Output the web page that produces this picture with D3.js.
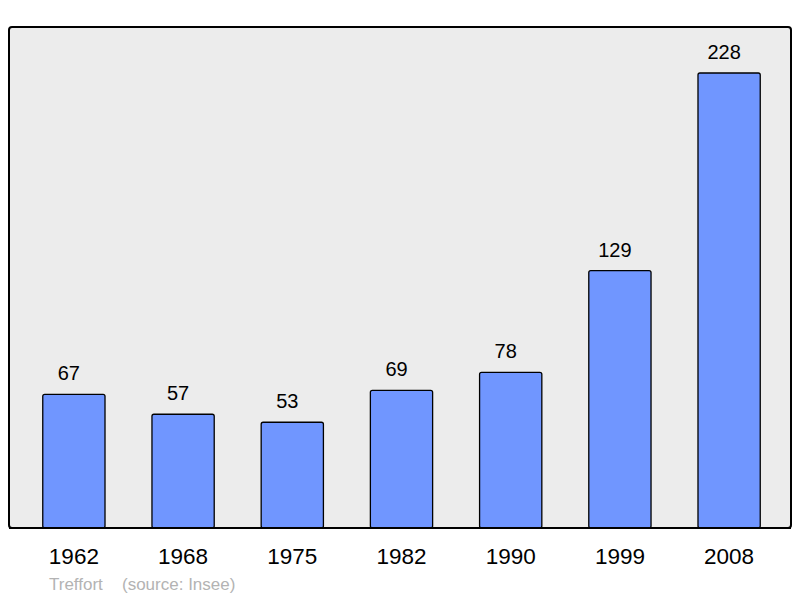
<!DOCTYPE html>
<html>
<head>
<meta charset="utf-8">
<script src="https://cdn.jsdelivr.net/npm/d3@7"></script>
<style>
  body { margin: 0; background: #fff; }
  text { font-family: "Liberation Sans", Arial, sans-serif; }
</style>
</head>
<body>
<div id="chart"></div>
<script>
const years = ["1962", "1968", "1975", "1982", "1990", "1999", "2008"];
const population = [67, 57, 53, 69, 78, 129, 228];
const commune = "Treffort";
const source = "(source: Insee)";

const width = 800, height = 598;
const panel = { left: 9, top: 27, right: 791, bottom: 528 };

const svg = d3.select("#chart")
    .append("svg")
    .attr("width", width)
    .attr("height", height);

// background panel
svg.append("rect")
    .attr("x", panel.left)
    .attr("y", panel.top)
    .attr("width", panel.right - panel.left)
    .attr("height", panel.bottom - panel.top)
    .attr("rx", 3)
    .attr("fill", "#ececec")
    .attr("stroke", "#000")
    .attr("stroke-width", 2);

const x = d3.scaleBand()
    .domain(years)
    .range([panel.left + 1, panel.right + 2])
    .paddingInner(0.43)
    .paddingOuter(0.3);

const y = d3.scaleLinear()
    .domain([0, 228])
    .range([panel.bottom, 73]);

const data = years.map((yr, i) => ({ year: yr, value: population[i] }));

svg.selectAll(".bar")
    .data(data)
    .enter()
    .append("rect")
    .attr("class", "bar")
    .attr("x", d => x(d.year))
    .attr("y", d => y(d.value))
    .attr("width", x.bandwidth())
    .attr("height", d => panel.bottom - y(d.value))
    .attr("rx", 2)
    .attr("fill", "#7096ff")
    .attr("stroke", "#000")
    .attr("stroke-width", 1.3);

// redraw bottom edge of panel over the bars
svg.append("line")
    .attr("x1", panel.left)
    .attr("x2", panel.right)
    .attr("y1", panel.bottom)
    .attr("y2", panel.bottom)
    .attr("stroke", "#000")
    .attr("stroke-width", 2);

// value labels sit a little left of the bar centre, as in the original
svg.selectAll(".value")
    .data(data)
    .enter()
    .append("text")
    .attr("class", "value")
    .attr("x", d => x(d.year) + x.bandwidth() / 2 - 5)
    .attr("y", d => y(d.value) - 14)
    .attr("text-anchor", "middle")
    .attr("font-size", 20)
    .attr("fill", "#000")
    .text(d => d.value);

// year axis (labels only)
const axis = svg.append("g")
    .attr("transform", `translate(0,${panel.bottom})`)
    .call(d3.axisBottom(x).tickSize(0).tickPadding(20));
axis.select(".domain").remove();
axis.selectAll("text")
    .attr("font-size", 22.5)
    .attr("font-family", "Liberation Sans, Arial, sans-serif")
    .attr("fill", "#000");

svg.append("text")
    .attr("x", 49)
    .attr("y", 590)
    .attr("font-size", 17)
    .attr("fill", "#b3b3b3")
    .text(commune);

svg.append("text")
    .attr("x", 122)
    .attr("y", 590)
    .attr("font-size", 17)
    .attr("fill", "#b3b3b3")
    .text(source);
</script>
</body>
</html>
